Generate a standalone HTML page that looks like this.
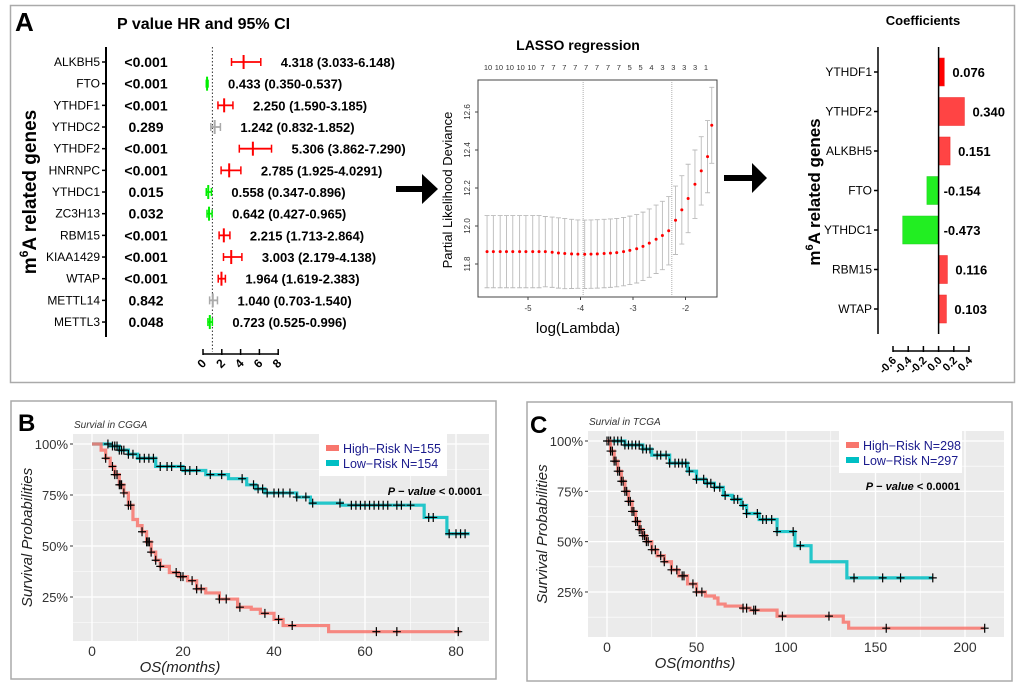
<!DOCTYPE html>
<html><head><meta charset="utf-8"><style>
html,body{margin:0;padding:0;background:#fff}
svg{display:block;font-family:"Liberation Sans",Arial,sans-serif}
</style></head><body>
<svg id="fig" width="1020" height="697" viewBox="0 0 1020 697" xmlns="http://www.w3.org/2000/svg">
<rect x="10.5" y="5.5" width="1004" height="377" fill="none" stroke="#aaa" stroke-width="1.5"/>
<rect x="11" y="401" width="485" height="278" fill="#fff" stroke="#aaa" stroke-width="1.5"/>
<rect x="527" y="402" width="485" height="279" fill="#fff" stroke="#aaa" stroke-width="1.5"/>
<text x="15" y="31" font-size="26" font-weight="bold">A</text>
<text x="18" y="431" font-size="24" font-weight="bold">B</text>
<text x="530" y="433" font-size="24" font-weight="bold">C</text>
<text x="117" y="29" font-size="16" font-weight="bold">P value HR and 95% CI</text>
<text transform="translate(36,192) rotate(-90)" text-anchor="middle" font-size="19" font-weight="bold">m<tspan font-size="12" dy="-8">6</tspan><tspan dy="8">A related genes</tspan></text>
<text x="578" y="50" text-anchor="middle" font-size="14" font-weight="bold">LASSO regression</text>
<text transform="translate(452,190) rotate(-90)" text-anchor="middle" font-size="13">Partial Likelihood Deviance</text>
<text x="578" y="333" text-anchor="middle" font-size="15">log(Lambda)</text>
<text x="923" y="25" text-anchor="middle" font-size="13" font-weight="bold">Coefficients</text>
<text transform="translate(820,192) rotate(-90)" text-anchor="middle" font-size="17" font-weight="bold">m<tspan font-size="11" dy="-7">6</tspan><tspan dy="7">A related genes</tspan></text>
<polygon points="396,186 422,186 422,174 438,189 422,204 422,192 396,192" fill="#000"/>
<polygon points="724,175 752,175 752,163 767,178 752,193 752,181 724,181" fill="#000"/>
<g id="forest"></g>
<g id="lasso"></g>
<g id="coef"></g>
<g id="kmB"></g>
<g id="kmC"></g>
</svg>
<script>
// ---------- data ----------
const forestGenes = ["ALKBH5","FTO","YTHDF1","YTHDC2","YTHDF2","HNRNPC","YTHDC1","ZC3H13","RBM15","KIAA1429","WTAP","METTL14","METTL3"];
const forestP = ["<0.001","<0.001","<0.001","0.289","<0.001","<0.001","0.015","0.032","<0.001","<0.001","<0.001","0.842","0.048"];
const forestHR = [4.318,0.433,2.250,1.242,5.306,2.785,0.558,0.642,2.215,3.003,1.964,1.040,0.723];
const forestLo = [3.033,0.350,1.590,0.832,3.862,1.925,0.347,0.427,1.713,2.179,1.619,0.703,0.525];
const forestHi = [6.148,0.537,3.185,1.852,7.290,4.0291,0.896,0.965,2.864,4.138,2.383,1.540,0.996];
const forestHiLabel = ["6.148","0.537","3.185","1.852","7.290","4.0291","0.896","0.965","2.864","4.138","2.383","1.540","0.996"];
const forestLoLabel = ["3.033","0.350","1.590","0.832","3.862","1.925","0.347","0.427","1.713","2.179","1.619","0.703","0.525"];
const forestHRLabel = ["4.318","0.433","2.250","1.242","5.306","2.785","0.558","0.642","2.215","3.003","1.964","1.040","0.723"];
const forestTicks = [0,2,4,6,8];

const lassoLogLambda = [-5.78,-5.66,-5.53,-5.41,-5.29,-5.16,-5.04,-4.91,-4.79,-4.67,-4.54,-4.42,-4.30,-4.17,-4.05,-3.92,-3.80,-3.68,-3.55,-3.43,-3.31,-3.18,-3.06,-2.93,-2.81,-2.69,-2.56,-2.44,-2.32,-2.19,-2.07,-1.95,-1.82,-1.70,-1.58,-1.50];
const lassoMean = [11.865,11.865,11.865,11.865,11.865,11.865,11.865,11.865,11.865,11.865,11.862,11.858,11.855,11.853,11.852,11.851,11.852,11.853,11.855,11.857,11.860,11.865,11.872,11.880,11.893,11.910,11.930,11.950,11.975,12.03,12.085,12.145,12.22,12.29,12.365,12.53];
const lassoSE = [0.19,0.19,0.19,0.19,0.19,0.19,0.19,0.19,0.19,0.185,0.185,0.185,0.185,0.182,0.18,0.18,0.18,0.18,0.18,0.18,0.18,0.18,0.18,0.18,0.18,0.18,0.18,0.18,0.18,0.18,0.18,0.18,0.18,0.18,0.19,0.20];
const lassoTop = ["10","10","10","10","10","7","7","7","7","7","7","7","7","5","5","4","3","3","3","3","1"];
const lassoXTicks = [-5,-4,-3,-2];
const lassoYTicks = [11.8,12.0,12.2,12.4,12.6];
const lassoVLines = [-3.95,-2.26];

const coefGenes = ["YTHDF1","YTHDF2","ALKBH5","FTO","YTHDC1","RBM15","WTAP"];
const coefValues = [0.076,0.340,0.151,-0.154,-0.473,0.116,0.103];
const coefTicks = [-0.6,-0.4,-0.2,0.0,0.2,0.4];

const kmTicksPct = [25,50,75,100];
const cggaXTicks = [0,20,40,60,80];
const cggaHighT = [0,2,3,4,5,6,7,8,9,10,11,12,13,14,15,17,19,21,23,25,28,32,35,37,40,42,52,81];
const cggaHighS = [100,97,93,89,85,80,76,70,63,60,57,52,47,43,40,37,35,33,29,27,24,20,19,17,14,11,8,8];
const cggaLowT = [0,4,6,8,10,14,20,25,30,34,36,38,45,48,55,73,78,83];
const cggaLowS = [100,99,97,95,93,89,87,85,83,80,78,76,74,71,70,64,56,56];
const cggaHighCens = [3,4.5,5,5.5,6,6.2,6.5,7,8,8.5,11,12,12.3,12.6,13,14,15,18.5,19.5,20,22,23,24,28,29.5,32.5,38,41,44,62.5,67,80.5];
const cggaLowCens = [3.5,4.5,5,5.5,6,6.5,7,8,9,10.5,11.5,12.5,13.5,15,16.5,17.5,19.5,20.5,21.5,23,26,28.5,33,35.5,36.5,37.5,38.5,40,41,42,43.5,45,47,48.5,54.5,57,58,59,60,61,62,63,64,65,67,68,70,74,75,78.5,80,81,82];

const tcgaXTicks = [0,50,100,150,200];
const tcgaHighT = [0,2,4,6,8,10,12,14,16,18,20,22,25,28,32,36,40,45,50,55,60,62,66,75,80,95,130,132,135,211];
const tcgaHighS = [100,95,90,85,80,75,70,65,60,56,53,50,46,43,40,36,33,29,25,23,22,19,18,17,16,13,13,10,7,7];
const tcgaLowT = [0,10,20,25,35,45,50,55,60,65,70,75,78,85,95,105,114,134,182];
const tcgaLowS = [100,98,96,93,89,85,81,79,77,73,71,68,64,61,55,48,40,32,32];
const tcgaHighCens = [1,2,3,4,5,6,7,8,9,10,11,12,13,14,15,16,17,18,19,20,21,22,23,25,27,30,32,36,39,42,43,48,50,53,76,78,82,83,98,124,156,211];
const tcgaLowCens = [0,2,4,6,8,10,12,14,16,18,20,22,24,28,30,33,35,38,40,42,44,46,50,54,56,58,60,63,66,71,73,76,78,84,87,89,92,95,104,108,138,154,164,182];

// ---------- helpers ----------
const NS = "http://www.w3.org/2000/svg";
function mk(tag, attrs, parent){ const e=document.createElementNS(NS,tag); for(const k in attrs) e.setAttribute(k,attrs[k]); parent.appendChild(e); return e; }

// ---------- forest ----------
(function(){
  const g=document.getElementById('forest');
  const fx=v=>203+v*9.4, fy=i=>62+i*21.67;
  let el=mk('line',{x1:106,y1:47,x2:106,y2:337,stroke:'#000','stroke-width':2},g);
  
  
  el=mk('line',{x1:fx(1),y1:47,x2:fx(1),y2:352,stroke:'#333','stroke-width':1,'stroke-dasharray':'1.5,2'},g);
  
  
  el=mk('line',{x1:fx(0),y1:354,x2:fx(8),y2:354,stroke:'#000','stroke-width':1.5},g);
  
  
  forestTicks.forEach(t=>{
    let tk=mk('line',{x1:fx(t),y1:349,x2:fx(t),y2:355,stroke:'#000','stroke-width':1.5},g);
    
    
    let tl=mk('text',{x:fx(t)+4,y:364,'font-size':12,'font-weight':'bold','text-anchor':'end',transform:`rotate(-45 ${fx(t)+4} 364)`},g);
    tl.textContent=t;
    
    
  });
  forestGenes.forEach((gn,i)=>{
    const y=fy(i);
    let tk=mk('line',{x1:102,y1:y,x2:106,y2:y,stroke:'#000','stroke-width':1.5},g);
    
    
    let t=mk('text',{x:100,y:y+4,'font-size':12,'text-anchor':'end'},g); t.textContent=gn;
    
    
    let p=mk('text',{x:146,y:y+5,'font-size':14,'font-weight':'bold','text-anchor':'middle'},g); p.textContent=forestP[i];
    
    
    const sig=parseFloat(forestP[i].replace('<',''))<0.05;
    const col=!sig?'#aaa':(forestHR[i]>1?'#f00':'#0e0');
    let ci=mk('line',{x1:fx(forestLo[i]),y1:y,x2:fx(forestHi[i]),y2:y,stroke:col,'stroke-width':1.8},g);
    
    
    [forestLo[i],forestHi[i]].forEach(v=>{
      let c=mk('line',{x1:fx(v),y1:y-4,x2:fx(v),y2:y+4,stroke:col,'stroke-width':1.5},g);
      
      
    });
    let m=mk('line',{x1:fx(forestHR[i]),y1:y-7,x2:fx(forestHR[i]),y2:y+7,stroke:col,'stroke-width':2},g);
    
    
    let h=mk('text',{x:fx(forestHi[i])+20,y:y+5,'font-size':13,'font-weight':'bold'},g);
    h.textContent=`${forestHRLabel[i]} (${forestLoLabel[i]}-${forestHiLabel[i]})`;
    
    
  });
})();

// ---------- lasso ----------
(function(){
  const g=document.getElementById('lasso');
  const lx=v=>528+(v+5)*52.5, ly=v=>264-(v-11.8)*190;
  let b=mk('rect',{x:478,y:80,width:239,height:217,fill:'none',stroke:'#444','stroke-width':1},g);
  
  
  lassoVLines.forEach(v=>{
    let l=mk('line',{x1:lx(v),y1:80,x2:lx(v),y2:297,stroke:'#999','stroke-width':0.8,'stroke-dasharray':'1,1'},g);
    
    
  });
  lassoXTicks.forEach(t=>{
    let l=mk('line',{x1:lx(t),y1:297,x2:lx(t),y2:300,stroke:'#444'},g);
    
    
    let tt=mk('text',{x:lx(t),y:311,'font-size':8,'text-anchor':'middle',fill:'#333'},g); tt.textContent=t;
    
    
  });
  lassoYTicks.forEach(t=>{
    let l=mk('line',{x1:475,y1:ly(t),x2:478,y2:ly(t),stroke:'#444'},g);
    
    
    let tt=mk('text',{x:470,y:ly(t),'font-size':8,'text-anchor':'middle',fill:'#333',transform:`rotate(-90 470 ${ly(t)})`},g); tt.textContent=t.toFixed(1);
    
    
  });
  lassoTop.forEach((s,i)=>{
    const x=488+i*(218/(lassoTop.length-1));
    let tt=mk('text',{x:x,y:70,'font-size':7.5,'text-anchor':'middle',fill:'#333'},g); tt.textContent=s;
    
    
  });
  lassoLogLambda.forEach((v,i)=>{
    const x=lx(v), y1=ly(lassoMean[i]-lassoSE[i]), y2=ly(lassoMean[i]+lassoSE[i]);
    let e=mk('path',{d:`M${x},${y1}V${y2}M${x-2.5},${y1}H${x+2.5}M${x-2.5},${y2}H${x+2.5}`,stroke:'#bbb','stroke-width':0.9,fill:'none'},g);
    
    
  });
  lassoLogLambda.forEach((v,i)=>{
    let c=mk('circle',{cx:lx(v),cy:ly(lassoMean[i]),r:1.5,fill:'#f00'},g);
    
    
  });
})();

// ---------- coefficients ----------
(function(){
  const g=document.getElementById('coef');
  const cx=v=>938.6+v*76, cy=i=>72+i*39.5;
  let a=mk('line',{x1:878,y1:47,x2:878,y2:334,stroke:'#000','stroke-width':1.5},g);
  
  
  coefGenes.forEach((gn,i)=>{
    const y=cy(i), v=coefValues[i];
    let tk=mk('line',{x1:874,y1:y,x2:878,y2:y,stroke:'#000','stroke-width':1.5},g);
    
    
    let t=mk('text',{x:872,y:y+4,'font-size':12,'text-anchor':'end'},g); t.textContent=gn;
    
    
    const x0=Math.min(cx(0),cx(v)), w=Math.abs(cx(v)-cx(0));
    let r=mk('rect',{x:x0,y:y-14,width:w,height:28,fill:v>0?(i===0?'#f00':'#f44'):'#2e2',stroke:v>0?'#e22':'#2c2','stroke-width':0.5},g);
    
    
    let l=mk('text',{x:v>0?cx(v)+8:cx(0)+5,y:y+5,'font-size':13,'font-weight':'bold'},g); l.textContent=v.toFixed(3);
    
    
  });
  let z=mk('line',{x1:cx(0),y1:47,x2:cx(0),y2:334,stroke:'#000','stroke-width':1.5},g);
  
  
  let xa=mk('line',{x1:cx(-0.6),y1:351,x2:cx(0.4),y2:351,stroke:'#000','stroke-width':1.5},g);
  
  
  coefTicks.forEach(t=>{
    let tk=mk('line',{x1:cx(t),y1:346,x2:cx(t),y2:352,stroke:'#000','stroke-width':1.5},g);
    
    
    let tl=mk('text',{x:cx(t)+4,y:361,'font-size':11,'font-weight':'bold','text-anchor':'end',transform:`rotate(-45 ${cx(t)+4} 361)`},g);
    tl.textContent=t.toFixed(1);
    
    
  });
})();

// ---------- KM ----------
function km(id,o){
  const g=document.getElementById(id);
  const X=v=>o.x0+v*o.xs, Y=p=>o.y100+(100-p)*o.ys;
  let bg=mk('rect',{x:o.L,y:o.T,width:o.R-o.L,height:o.B-o.T,fill:'#ebebeb'},g);
  
  
  const step=o.xt[1]-o.xt[0];
  const minorX=o.xt.map(t=>t+step/2).concat([o.xt[0]-step/2]);
  minorX.forEach(t=>{ if(X(t)>o.L&&X(t)<o.R){
    let l=mk('line',{x1:X(t),y1:o.T,x2:X(t),y2:o.B,stroke:'#fff','stroke-width':0.6},g);
    
    }});
  [12.5,37.5,62.5,87.5].forEach(p=>{
    let l=mk('line',{x1:o.L,y1:Y(p),x2:o.R,y2:Y(p),stroke:'#fff','stroke-width':0.6},g);
    
    });
  o.xt.forEach(t=>{
    let l=mk('line',{x1:X(t),y1:o.T,x2:X(t),y2:o.B,stroke:'#fff','stroke-width':1.3},g);
    
    
    let tl=mk('text',{x:X(t),y:o.B+15,'font-size':14,'text-anchor':'middle',fill:'#333'},g); tl.textContent=t;
    
    
  });
  kmTicksPct.forEach(p=>{
    let l=mk('line',{x1:o.L,y1:Y(p),x2:o.R,y2:Y(p),stroke:'#fff','stroke-width':1.3},g);
    
    
    let tk=mk('line',{x1:o.L-3,y1:Y(p),x2:o.L,y2:Y(p),stroke:'#333'},g);
    
    
    let tl=mk('text',{x:o.L-5,y:Y(p)+5,'font-size':13,'text-anchor':'end',fill:'#333'},g); tl.textContent=p+'%';
    
    
  });
  function curve(T,S,C,col,name){
    let d=`M${X(T[0])},${Y(S[0])}`;
    for(let i=1;i<T.length;i++) d+=`H${X(T[i])}V${Y(S[i])}`;
    let p=mk('path',{d:d,fill:'none',stroke:col,'stroke-width':3.2,'stroke-opacity':0.85},g);
    
    
    C.forEach(t=>{
      let k=0; for(let i=0;i<T.length;i++) if(T[i]<=t) k=i;
      const x=X(t), y=Y(S[k]);
      let c=mk('path',{d:`M${x-4},${y}H${x+4}M${x},${y-4.5}V${y+4.5}`,stroke:'#000','stroke-width':1.2},g);
      
      
    });
  }
  curve(o.lowT,o.lowS,o.lowC,'#00BFC4','low-risk');
  curve(o.highT,o.highS,o.highC,'#F8766D','high-risk');
  let lb=mk('rect',{x:o.lgx,y:o.T,width:o.lgw,height:42,fill:'#fff'},g);
  
  
  [['#F8766D',o.hl],['#00BFC4',o.ll]].forEach((e,i)=>{
    const y=o.T+14+i*15;
    let s=mk('rect',{x:o.lgx+7,y:y-3,width:13,height:6,fill:e[0]},g);
    
    
    let t=mk('text',{x:o.lgx+24,y:y+5,'font-size':12.5,fill:'#1a1a8c'},g); t.textContent=e[1];
    
    
  });
  let pv=mk('text',{x:o.pvx,y:o.pvy,'font-size':11,'font-weight':'bold','text-anchor':'end'},g);
  pv.innerHTML='<tspan font-style="italic">P</tspan> − <tspan font-style="italic">value</tspan> &lt; 0.0001';
  
  
  let st=mk('text',{x:o.L+1,y:o.T-6,'font-size':10,'font-style':'italic',fill:'#333'},g); st.textContent=o.sub;
  
  
  let xt=mk('text',{x:o.xtx,y:o.B+31,'font-size':15,'font-style':'italic','text-anchor':'middle',fill:'#222'},g); xt.textContent='OS(months)';
  
  
  let yt=mk('text',{x:0,y:0,'font-size':15,'font-style':'italic','text-anchor':'middle',fill:'#222',transform:`translate(${o.ytx},${(o.T+o.B)/2}) rotate(-90)`},g); yt.textContent='Survival Probabilities';
  
  
}
km('kmB',{L:73,R:489,T:434,B:641,x0:92,xs:4.55,y100:444,ys:2.04,xt:cggaXTicks,
  highT:cggaHighT,highS:cggaHighS,highC:cggaHighCens,lowT:cggaLowT,lowS:cggaLowS,lowC:cggaLowCens,
  lgx:319,lgw:128,hl:'High−Risk  N=155',ll:'Low−Risk  N=154',pvx:482,pvy:495,sub:'Survial in CGGA',xtx:180,ytx:32});
km('kmC',{L:588,R:1004,T:431,B:637,x0:607,xs:1.79,y100:441,ys:2.013,xt:tcgaXTicks,
  highT:tcgaHighT,highS:tcgaHighS,highC:tcgaHighCens,lowT:tcgaLowT,lowS:tcgaLowS,lowC:tcgaLowCens,
  lgx:839,lgw:123,hl:'High−Risk N=298',ll:'Low−Risk  N=297',pvx:960,pvy:490,sub:'Survial in TCGA',xtx:695,ytx:547});
</script>
</body></html>
